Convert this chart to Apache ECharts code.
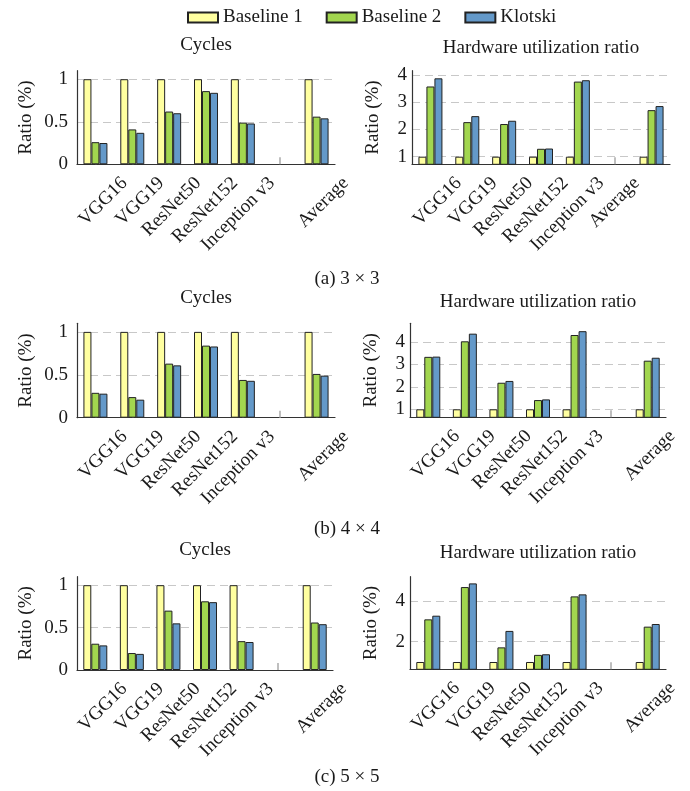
<!DOCTYPE html>
<html><head><meta charset="utf-8">
<script src="https://cdn.jsdelivr.net/npm/echarts@6/dist/echarts.min.js"></script>
<style>html,body{margin:0;padding:0;background:#fff}#c{width:690px;height:791px}</style>
</head><body><div id="c"></div>
<script>
// ---- data ----
const seriesNames = ['Baseline 1', 'Baseline 2', 'Klotski'];
const slots = ['VGG16', 'VGG19', 'ResNet50', 'ResNet152', 'Inception v3', '', 'Average'];
const labelsStd = ['VGG16', 'VGG19', 'ResNet50', 'ResNet152', 'Inception v3', '', 'Average'];
const labelsHwA = ['VGG16', 'VGG19', 'ResNet50', 'ResNet152', 'Inception v3', 'Average', ''];
const baseline1 = [1, 1, 1, 1, 1, null, 1];

const aCyclesB2 = [0.26, 0.41, 0.62, 0.86, 0.49, null, 0.56];
const aCyclesK  = [0.25, 0.37, 0.60, 0.84, 0.48, null, 0.54];
const aHwB2 = [3.58, 2.27, 2.20, 1.29, 3.76, null, 2.71];
const aHwK  = [3.88, 2.49, 2.32, 1.30, 3.81, null, 2.86];

const bCyclesB2 = [0.29, 0.24, 0.63, 0.84, 0.44, null, 0.51];
const bCyclesK  = [0.28, 0.21, 0.61, 0.83, 0.43, null, 0.49];
const bHwB2 = [3.33, 4.02, 2.18, 1.41, 4.30, null, 3.16];
const bHwK  = [3.34, 4.36, 2.26, 1.44, 4.47, null, 3.29];

const cCyclesB2 = [0.31, 0.20, 0.70, 0.81, 0.34, null, 0.56];
const cCyclesK  = [0.29, 0.19, 0.55, 0.80, 0.33, null, 0.54];
const cHwB2 = [3.10, 4.69, 1.72, 1.35, 4.23, null, 2.74];
const cHwK  = [3.28, 4.87, 2.53, 1.38, 4.33, null, 2.87];

const captions = ['(a) 3 \u00d7 3', '(b) 4 \u00d7 4', '(c) 5 \u00d7 5'];
const titleCycles = 'Cycles';
const titleHw = 'Hardware utilization ratio';
const yName = 'Ratio (%)';

// ---- styling ----
const FONT = 'Liberation Serif';
const TXT = '#1a1a1a';
const colors = ['#ffffa0', '#a2d64f', '#6499c9'];
const FS = 19;

const panels = [
  {grid:{left:77, top:70.7, width:258, height:93.6}, min:0, max:1.1, step:0.5, left:true,
   data:[baseline1, aCyclesB2, aCyclesK], labels:labelsStd, title:titleCycles, titleTop:36},
  {grid:{left:412, top:70.7, width:258, height:93.6}, min:0.72, max:4.16, step:1, left:false,
   data:[baseline1, aHwB2, aHwK], labels:labelsHwA, title:titleHw, titleTop:39},
  {grid:{left:77, top:323.3, width:258, height:94.4}, min:0, max:1.1, step:0.5, left:true,
   data:[baseline1, bCyclesB2, bCyclesK], labels:labelsStd, title:titleCycles, titleTop:288.5},
  {grid:{left:410, top:323.3, width:256, height:94}, min:0.645, max:4.82, step:1, left:false,
   data:[baseline1, bHwB2, bHwK], labels:labelsStd, title:titleHw, titleTop:292.5},
  {grid:{left:77, top:576.7, width:256, height:93.3}, min:0, max:1.1, step:0.5, left:true,
   data:[baseline1, cCyclesB2, cCyclesK], labels:labelsStd, title:titleCycles, titleTop:541},
  {grid:{left:410, top:576.7, width:256, height:92.6}, min:0.64, max:5.2, step:2, left:false,
   data:[baseline1, cHwB2, cHwK], labels:labelsStd, title:titleHw, titleTop:544}
];
const captionTops = [269.5, 519.5, 767.5];
const LABEL_SHIFT = 29;

const grids = [], xAxes = [], yAxes = [], series = [], titles = [];
const n = panels.length;
panels.forEach((p, i) => {
  grids[i] = Object.assign({containLabel:false}, p.grid);
  grids[n + i] = {left:p.grid.left + LABEL_SHIFT, top:p.grid.top, width:p.grid.width, height:p.grid.height, containLabel:false};
  xAxes[i] = {
    gridIndex:i, type:'category', data:slots,
    axisLine:{show:true, onZero:false, lineStyle:{color:'#333', width:1.2}},
    axisTick:{show:true, alignWithLabel:true, inside:true, length:7, interval:0, lineStyle:{color:'#aaa', width:1.5}},
    axisLabel:{show:false}, splitLine:{show:false}
  };
  xAxes[n + i] = {
    gridIndex:n + i, type:'category', data:p.labels,
    axisLine:{show:false}, axisTick:{show:false}, splitLine:{show:false},
    axisLabel:{interval:0, rotate:45, margin:16, fontFamily:FONT, fontSize:FS, color:TXT}
  };
  const step = p.step;
  const ya = {
    gridIndex:i, type:'value', min:p.min, max:p.max,
    axisLine:{show:true, lineStyle:{color:'#333', width:1.2}},
    axisTick:{show:false},
    axisLabel:{fontFamily:FONT, fontSize:FS, color:TXT, margin:p.left ? 9 : 5,
      showMinLabel:p.left, showMaxLabel:false,
      formatter:v => (Math.abs(v / step - Math.round(v / step)) < 1e-6 ? String(+v.toFixed(2)) : '')},
    splitLine:{show:true, showMinLine:false, showMaxLine:false, lineStyle:{color:'#c8c8c8', type:[8,5], width:1}},
    name:yName, nameLocation:'middle', nameGap:p.left ? 41 : 29,
    nameTextStyle:{fontFamily:FONT, fontSize:FS, color:TXT}
  };
  if (p.left) { ya.interval = step; } else { ya.splitNumber = 3; ya.minInterval = step; ya.maxInterval = step; }
  yAxes[i] = ya;
  yAxes[n + i] = {gridIndex:n + i, type:'value', show:false};
  p.data.forEach((d, s) => {
    series.push({
      type:'bar', name:seriesNames[s], xAxisIndex:i, yAxisIndex:i, data:d,
      barWidth:8, barGap:'0%',
      itemStyle:{color:colors[s], borderColor:'#222', borderWidth:1},
      emphasis:{disabled:true}
    });
  });
  titles.push({text:p.title, left:p.grid.left + p.grid.width / 2, top:p.titleTop, textAlign:'center', textVerticalAlign:'top', padding:0,
    textStyle:{fontFamily:FONT, fontSize:FS, fontWeight:'normal', color:TXT}});
});
captions.forEach((c, k) => {
  titles.push({text:c, left:347, top:captionTops[k], textAlign:'center', textVerticalAlign:'top', padding:0,
    textStyle:{fontFamily:FONT, fontSize:FS, fontWeight:'normal', color:TXT}});
});

const chart = echarts.init(document.getElementById('c'), null, {renderer:'canvas'});
chart.setOption({
  animation:false,
  backgroundColor:'#fff',
  title:titles,
  legend:{data:seriesNames, left:187, top:8, padding:0, itemWidth:30, itemHeight:10, itemGap:23, icon:'rect',
    textStyle:{fontFamily:FONT, fontSize:FS, color:TXT}},
  grid:grids, xAxis:xAxes, yAxis:yAxes, series:series
});
</script></body></html>
